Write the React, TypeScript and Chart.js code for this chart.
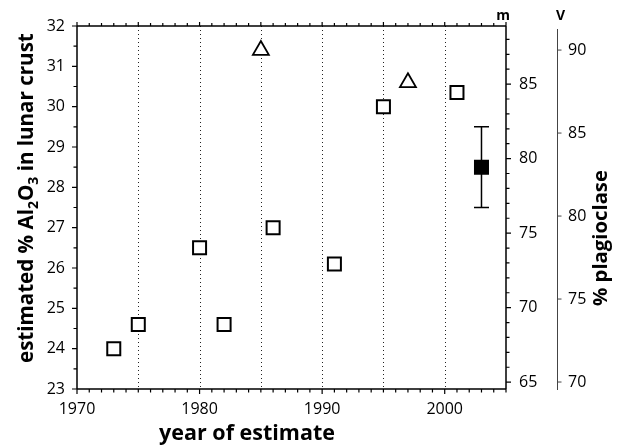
import React, { useEffect, useRef } from "react";
import { Chart, registerables } from "chart.js";

Chart.register(...registerables);

// Published estimates of alumina in the lunar crust
const YEARS_OPEN = [1973, 1975, 1980, 1982, 1986, 1991, 1995, 2001];
const AL2O3_OPEN = [24.0, 24.6, 26.5, 24.6, 27.0, 26.1, 30.0, 30.35];
const YEARS_TRI = [1985, 1997];
const AL2O3_TRI = [31.4, 30.6];
const YEAR_BEST = [2003];
const AL2O3_BEST = [28.5];
const AL2O3_LOW = [27.5];
const AL2O3_HIGH = [29.5];

// Axis ranges and tick labels
const X_MIN = 1970;
const X_MAX = 2005;
const X_TICKS = [1970, 1980, 1990, 2000];
const GRID_YEARS = [1975, 1980, 1985, 1990, 1995, 2000];
const Y_MIN = 23;
const Y_MAX = 32;
const Y_TICKS = [23, 24, 25, 26, 27, 28, 29, 30, 31, 32];
// plagioclase (mass %) scale, "m"
const M_MIN = 64.54;
const M_MAX = 88.9;
const M_TICKS = [65, 70, 75, 80, 85];
// plagioclase (volume %) scale, "V"
const V_MIN = 69.58;
const V_MAX = 91.45;
const V_TICKS = [70, 75, 80, 85, 90];

const TICK_FONT = { family: "'Open Sans', sans-serif", size: 16 };
const TITLE_FAMILY = "'Open Sans', sans-serif";

function fixTicks(values: number[]) {
  return (scale: any) => {
    scale.ticks = values.map((v) => ({ value: v }));
  };
}

// bold font sized so that the text spans the given length
function fitFont(ctx: CanvasRenderingContext2D, text: string, length: number) {
  ctx.font = `bold 20px ${TITLE_FAMILY}`;
  const size = (20 * length) / ctx.measureText(text).width;
  return size;
}

const axesPlugin = {
  id: "axesFrame",
  beforeDatasetsDraw(chart: any) {
    const { ctx, chartArea: a, scales } = chart;
    const x = scales.x;
    const y = scales.y;

    // dotted verticals every five years
    ctx.save();
    ctx.strokeStyle = "#222";
    ctx.lineWidth = 1;
    ctx.setLineDash([1, 3]);
    for (const yr of GRID_YEARS) {
      const px = Math.round(x.getPixelForValue(yr)) + 0.5;
      ctx.beginPath();
      ctx.moveTo(px, a.top);
      ctx.lineTo(px, a.bottom);
      ctx.stroke();
    }
    ctx.restore();

    // error bar on the preferred estimate
    ctx.save();
    ctx.strokeStyle = "#000";
    ctx.lineWidth = 1.5;
    YEAR_BEST.forEach((yr, i) => {
      const px = x.getPixelForValue(yr);
      const lo = y.getPixelForValue(AL2O3_LOW[i]);
      const hi = y.getPixelForValue(AL2O3_HIGH[i]);
      ctx.beginPath();
      ctx.moveTo(px, lo);
      ctx.lineTo(px, hi);
      ctx.moveTo(px - 7.5, lo);
      ctx.lineTo(px + 7.5, lo);
      ctx.moveTo(px - 7.5, hi);
      ctx.lineTo(px + 7.5, hi);
      ctx.stroke();
    });
    ctx.restore();
  },
  afterDraw(chart: any) {
    const { ctx, chartArea: a, scales } = chart;
    const x = scales.x;
    const y = scales.y;
    const m = scales.m;
    const v = scales.v;

    ctx.save();
    ctx.strokeStyle = "#000";
    ctx.lineWidth = 1.5;
    // frame
    ctx.beginPath();
    ctx.moveTo(a.left, a.top);
    ctx.lineTo(a.right, a.top);
    ctx.moveTo(a.left, a.bottom);
    ctx.lineTo(a.right, a.bottom);
    ctx.moveTo(a.left, a.top);
    ctx.lineTo(a.left, a.bottom);
    ctx.moveTo(a.right, a.top);
    ctx.lineTo(a.right, a.bottom);
    ctx.stroke();

    ctx.lineWidth = 1.2;
    ctx.beginPath();
    // year ticks, top (upwards) and bottom (downwards)
    for (let yr = X_MIN; yr <= X_MAX; yr++) {
      const px = x.getPixelForValue(yr);
      const major = yr % 5 === 0;
      ctx.moveTo(px, a.top);
      ctx.lineTo(px, a.top - (major ? 4 : 3));
      ctx.moveTo(px, a.bottom);
      ctx.lineTo(px, a.bottom + (yr % 10 === 0 ? 5 : 3.5));
    }
    // Al2O3 ticks on the left
    for (let k = Y_MIN * 2; k <= Y_MAX * 2; k++) {
      const py = y.getPixelForValue(k / 2);
      ctx.moveTo(a.left, py);
      ctx.lineTo(a.left - (k % 2 === 0 ? 5 : 3.5), py);
    }
    // mass-% ticks on the right edge
    for (let k = Math.ceil(M_MIN); k <= Math.floor(M_MAX); k++) {
      const py = m.getPixelForValue(k);
      ctx.moveTo(a.right, py);
      ctx.lineTo(a.right + (k % 5 === 0 ? 5 : 3.5), py);
    }
    ctx.stroke();

    // separate volume-% axis
    const vx = v.left + 0.5;
    ctx.strokeStyle = "#444";
    ctx.lineWidth = 1;
    ctx.beginPath();
    ctx.moveTo(vx, a.top + 3);
    ctx.lineTo(vx, a.bottom + 1);
    for (const t of V_TICKS) {
      const py = v.getPixelForValue(t);
      ctx.moveTo(vx, py);
      ctx.lineTo(vx + 4, py);
    }
    ctx.stroke();
    ctx.restore();

    // titles
    ctx.save();
    ctx.fillStyle = "#000";
    ctx.textAlign = "center";
    ctx.textBaseline = "alphabetic";
    const xt = "year of estimate";
    ctx.font = `bold ${fitFont(ctx, xt, 176)}px ${TITLE_FAMILY}`;
    ctx.fillText(xt, 247, 440);

    ctx.font = `bold 14px ${TITLE_FAMILY}`;
    ctx.fillText("m", a.right - 3, 20);
    ctx.fillText("V", vx + 3, 20);

    // right title
    const rt = "% plagioclase";
    ctx.save();
    ctx.translate(607, 238);
    ctx.rotate(-Math.PI / 2);
    ctx.font = `bold ${fitFont(ctx, rt, 136)}px ${TITLE_FAMILY}`;
    ctx.fillText(rt, 0, 0);
    ctx.restore();

    // left title with subscripts
    const runs: [string, boolean][] = [
      ["estimated % Al", false],
      ["2", true],
      ["O", false],
      ["3", true],
      [" in lunar crust", false],
    ];
    const big = 22;
    const small = 15;
    const fontFor = (sub: boolean) => `bold ${sub ? small : big}px ${TITLE_FAMILY}`;
    let total = 0;
    for (const [t, sub] of runs) {
      ctx.font = fontFor(sub);
      total += ctx.measureText(t).width;
    }
    const k = 330 / total;
    const fontScaled = (sub: boolean) =>
      `bold ${(sub ? small : big) * k}px ${TITLE_FAMILY}`;
    ctx.save();
    ctx.translate(33, 198);
    ctx.rotate(-Math.PI / 2);
    ctx.textAlign = "left";
    let cx = -330 / 2;
    for (const [t, sub] of runs) {
      ctx.font = fontScaled(sub);
      ctx.fillText(t, cx, sub ? 4.5 : 0);
      cx += ctx.measureText(t).width;
    }
    ctx.restore();
    ctx.restore();
  },
};

export default function App() {
  const canvasRef = useRef<HTMLCanvasElement | null>(null);

  useEffect(() => {
    const canvas = canvasRef.current;
    if (!canvas) return;
    const marker = {
      borderColor: "#000",
      borderWidth: 2,
      pointRadius: 9.2,
      pointHoverRadius: 9.2,
      showLine: false,
      yAxisID: "y",
    };
    const hidden = { display: false, drawTicks: false };
    const chart = new Chart(canvas, {
      type: "scatter",
      data: {
        datasets: [
          {
            ...marker,
            label: "estimates",
            data: YEARS_OPEN.map((yr, i) => ({ x: yr, y: AL2O3_OPEN[i] })),
            pointStyle: "rect",
            backgroundColor: "#fff",
          },
          {
            ...marker,
            label: "estimates (triangles)",
            data: YEARS_TRI.map((yr, i) => ({ x: yr, y: AL2O3_TRI[i] })),
            pointStyle: "triangle",
            backgroundColor: "#fff",
            borderWidth: 1.8,
          },
          {
            ...marker,
            label: "this estimate",
            data: YEAR_BEST.map((yr, i) => ({ x: yr, y: AL2O3_BEST[i] })),
            pointStyle: "rect",
            backgroundColor: "#000",
          },
        ],
      },
      options: {
        animation: false,
        responsive: true,
        maintainAspectRatio: false,
        layout: { padding: { top: 26, left: 0, right: 0, bottom: 0 } },
        plugins: {
          legend: { display: false },
          tooltip: { enabled: false },
        },
        events: [],
        scales: {
          x: {
            type: "linear",
            position: "bottom",
            min: X_MIN,
            max: X_MAX,
            afterBuildTicks: fixTicks(X_TICKS),
            afterFit: (s: any) => {
              s.height = 58;
            },
            grid: hidden,
            border: { display: false },
            ticks: {
              font: TICK_FONT,
              color: "#000",
              padding: 11,
              maxRotation: 0,
              callback: (val: any) => String(val),
            },
          },
          y: {
            type: "linear",
            position: "left",
            min: Y_MIN,
            max: Y_MAX,
            afterBuildTicks: fixTicks(Y_TICKS),
            afterFit: (s: any) => {
              s.width = 77;
            },
            grid: hidden,
            border: { display: false },
            ticks: { font: TICK_FONT, color: "#000", padding: 12 },
          },
          m: {
            type: "linear",
            position: "right",
            min: M_MIN,
            max: M_MAX,
            afterBuildTicks: fixTicks(M_TICKS),
            afterFit: (s: any) => {
              s.width = 51;
            },
            grid: hidden,
            border: { display: false },
            ticks: { font: TICK_FONT, color: "#000", padding: 13 },
          },
          v: {
            type: "linear",
            position: "right",
            min: V_MIN,
            max: V_MAX,
            afterBuildTicks: fixTicks(V_TICKS),
            afterFit: (s: any) => {
              s.width = 63;
            },
            grid: hidden,
            border: { display: false },
            ticks: { font: TICK_FONT, color: "#000", padding: 11 },
          },
        },
      },
      plugins: [axesPlugin],
    } as any);
    return () => chart.destroy();
  }, []);

  return (
    <div
      style={{
        position: "fixed",
        left: 0,
        top: 0,
        width: 620,
        height: 447,
        background: "#fff",
      }}
    >
      <canvas ref={canvasRef} />
    </div>
  );
}
